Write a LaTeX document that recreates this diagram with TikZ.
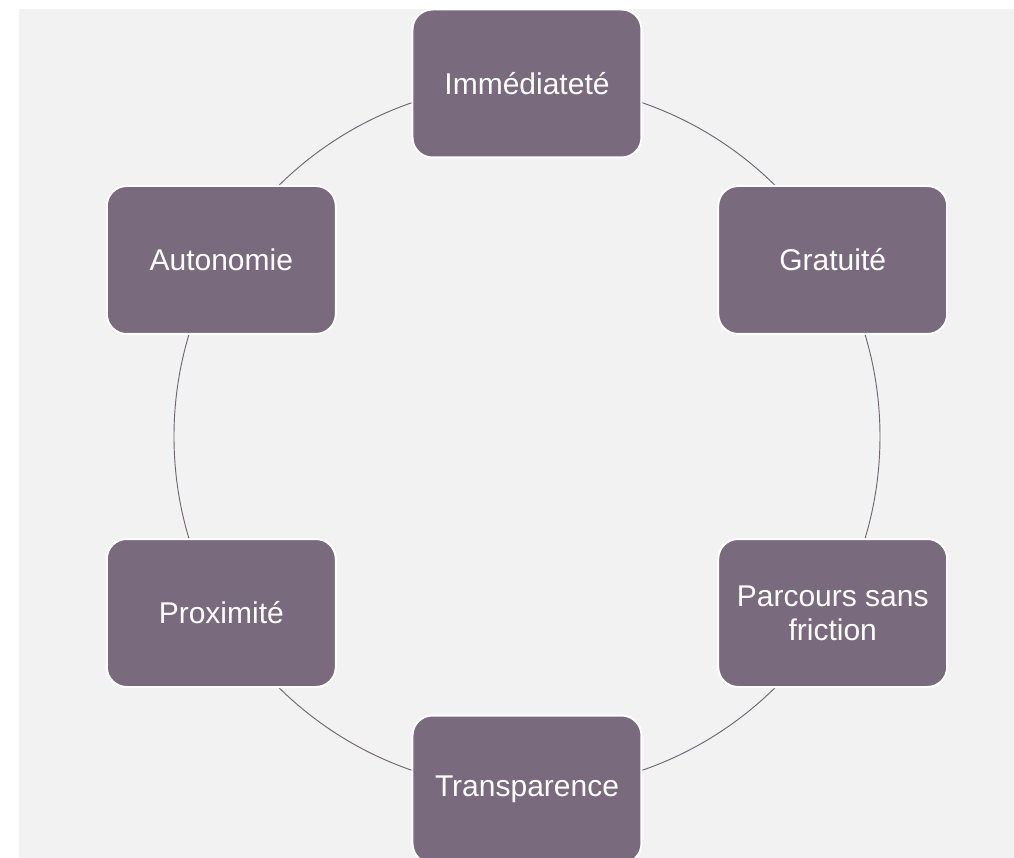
\documentclass[tikz,border=0pt]{standalone}
\usepackage{fontspec}
\setmainfont{Liberation Sans}
\usetikzlibrary{positioning}
\definecolor{mauve}{HTML}{796A7E}
\definecolor{fond}{HTML}{F2F2F2}
\definecolor{trait}{HTML}{6E6672}

\begin{document}
\begin{tikzpicture}[
  x=0.75pt, y=0.75pt,
  font=\fontsize{22.5}{25.5}\selectfont,
  etape/.style={
    draw=white,
    fill=mauve,
    line width=1.5pt,
    rounded corners=15pt,
    minimum width=171.75pt,
    minimum height=111pt,
    align=center,
    inner sep=4pt,
    text=white,
  },
  ring/.style={draw=trait, line width=0.7pt},
]

% ---- page and grey panel ----------------------------------------------------
% The panel runs past the right and bottom edges, as in the slide.
\useasboundingbox (-527,-420.5) rectangle (487,436.5);
\fill[fond] (-508,-426) rectangle (492,427.5);

% ---- the ring, under the boxes ----------------------------------------------
\coordinate (centre) at (0,0);
\draw[ring] (centre) circle[radius=353];

% ---- six steps, every 60 degrees --------------------------------------------
\foreach \ang/\nom/\txt in {
    90/immediatete/{Immédiateté},
    30/gratuite/{Gratuité},
    -30/parcours/{Parcours sans\\friction},
    -90/transparence/{Transparence},
    210/proximite/{Proximité},
    150/autonomie/{Autonomie}}
  \node[etape] (\nom) at (\ang:353) {\txt};

\end{tikzpicture}
\end{document}
